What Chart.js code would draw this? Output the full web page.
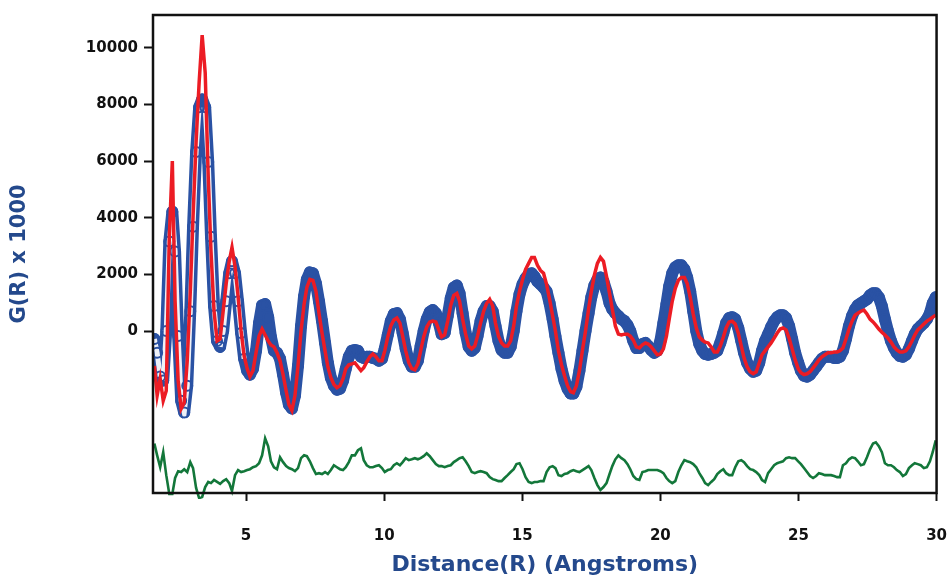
<!DOCTYPE html>
<html lang="en">
<head>
  <meta charset="UTF-8" />
  <title>G(R) fit</title>
  <script src="https://cdn.jsdelivr.net/npm/chart.js@4.4.1/dist/chart.umd.min.js"></script>
  <style>
    body { margin: 0; background: #fff; }
  </style>
</head>
<body>
  <canvas id="pdfChart" width="949" height="576"></canvas>
<script>
  // distance grid (Angstroms)
  const rGrid = [
    1.68, 1.78, 1.89, 2.00, 2.11, 2.22, 2.33, 2.43, 2.54, 2.65,
    2.76, 2.87, 2.98, 3.08, 3.19, 3.30, 3.41, 3.52, 3.63, 3.73,
    3.84, 3.95, 4.06, 4.17, 4.28, 4.39, 4.49, 4.60, 4.71, 4.82,
    4.93, 5.04, 5.14, 5.25, 5.36, 5.47, 5.58, 5.69, 5.80, 5.90,
    6.01, 6.12, 6.23, 6.34, 6.45, 6.55, 6.66, 6.77, 6.88, 6.99,
    7.10, 7.20, 7.31, 7.42, 7.53, 7.64, 7.75, 7.86, 7.96, 8.07,
    8.18, 8.29, 8.40, 8.51, 8.61, 8.72, 8.83, 8.94, 9.05, 9.16,
    9.26, 9.37, 9.48, 9.59, 9.70, 9.81, 9.92, 10.02, 10.13, 10.24,
    10.35, 10.46, 10.57, 10.67, 10.78, 10.89, 11.00, 11.11, 11.22, 11.32,
    11.43, 11.54, 11.65, 11.76, 11.87, 11.98, 12.08, 12.19, 12.30, 12.41,
    12.52, 12.63, 12.73, 12.84, 12.95, 13.06, 13.17, 13.28, 13.38, 13.49,
    13.60, 13.71, 13.82, 13.93, 14.03, 14.14, 14.25, 14.36, 14.47, 14.58,
    14.69, 14.79, 14.90, 15.01, 15.12, 15.23, 15.34, 15.44, 15.55, 15.66,
    15.77, 15.88, 15.99, 16.10, 16.20, 16.31, 16.42, 16.53, 16.64, 16.75,
    16.85, 16.96, 17.07, 17.18, 17.29, 17.40, 17.50, 17.61, 17.72, 17.83,
    17.94, 18.05, 18.16, 18.26, 18.37, 18.48, 18.59, 18.70, 18.81, 18.91,
    19.02, 19.13, 19.24, 19.35, 19.46, 19.56, 19.67, 19.78, 19.89, 20.00,
    20.11, 20.22, 20.32, 20.43, 20.54, 20.65, 20.76, 20.87, 20.97, 21.08,
    21.19, 21.30, 21.41, 21.52, 21.62, 21.73, 21.84, 21.95, 22.06, 22.17,
    22.28, 22.38, 22.49, 22.60, 22.71, 22.82, 22.93, 23.03, 23.14, 23.25,
    23.36, 23.47, 23.58, 23.68, 23.79, 23.90, 24.01, 24.12, 24.23, 24.34,
    24.44, 24.55, 24.66, 24.77, 24.88, 24.99, 25.09, 25.20, 25.31, 25.42,
    25.53, 25.64, 25.74, 25.85, 25.96, 26.07, 26.18, 26.29, 26.40, 26.50,
    26.61, 26.72, 26.83, 26.94, 27.05, 27.15, 27.26, 27.37, 27.48, 27.59,
    27.70, 27.80, 27.91, 28.02, 28.13, 28.24, 28.35, 28.46, 28.56, 28.67,
    28.78, 28.89, 29.00, 29.11, 29.21, 29.32, 29.43, 29.54, 29.65, 29.76,
    29.86, 29.97
  ];

  // observed G(R) (blue circles)
  const gObs = [
    -280, -770, -1610, -1750, 0, 3160, 4210, 2810, -180, -2460,
    -2880, -1930, 700, 3680, 6320, 7900, 8180, 7900, 5970, 3330,
    880, -350, -560, 0, 1050, 2040, 2460, 2040, 1050, -70,
    -980, -1400, -1540, -1330, -700, 280, 910, 950, 490, -210,
    -700, -770, -980, -1540, -2180, -2600, -2740, -2280, -1230, 180,
    1230, 1820, 2070, 2040, 1680, 1050, 350, -420, -1120, -1650,
    -1930, -2070, -2040, -1750, -1330, -910, -700, -670, -700, -910,
    -950, -910, -910, -950, -980, -1050, -980, -630, -140, 350,
    600, 630, 420, -70, -630, -1050, -1260, -1260, -1050, -530,
    0, 420, 670, 740, 630, 280, -110, -70, 530, 1160,
    1540, 1610, 1330, 630, -70, -560, -700, -600, -180, 350,
    700, 880, 880, 700, 180, -350, -670, -770, -770, -560,
    0, 700, 1300, 1650, 1860, 2000, 2040, 1930, 1750, 1650,
    1540, 1400, 980, 420, -180, -770, -1330, -1750, -2040, -2210,
    -2210, -1970, -1400, -700, 0, 630, 1190, 1610, 1820, 1890,
    1750, 1400, 980, 770, 630, 530, 420, 350, 210, 0,
    -350, -600, -600, -460, -420, -530, -670, -770, -700, -350,
    280, 950, 1580, 2040, 2250, 2320, 2320, 2180, 1890, 1400,
    700, 0, -460, -700, -810, -840, -810, -770, -700, -420,
    -70, 280, 460, 490, 420, 110, -350, -770, -1120, -1330,
    -1440, -1400, -1120, -700, -350, -110, 140, 350, 490, 560,
    560, 460, 180, -280, -770, -1120, -1400, -1580, -1610, -1540,
    -1400, -1260, -1120, -980, -910, -910, -910, -950, -950, -910,
    -700, -280, 180, 530, 770, 910, 980, 1050, 1120, 1260,
    1330, 1330, 1190, 880, 420, 0, -350, -600, -770, -880,
    -910, -840, -630, -350, -110, 70, 180, 280, 420, 630,
    980, 1190
  ];

  // calculated G(R) (red line)
  const gCalc = [
    -1230, -2280, -1680, -2460, -2110, 3300, 6000, 1050, -1750, -2740,
    -2530, -1050, 1400, 4040, 6670, 8770, 10450, 9120, 5440, 2810,
    700, -350, -280, 700, 1680, 2460, 2950, 2280, 1230, 0,
    -880, -1330, -1610, -1400, -770, -180, 70, -140, -350, -490,
    -560, -770, -1050, -1540, -2110, -2600, -2810, -2280, -1230, 0,
    950, 1540, 1820, 1790, 1400, 630, -70, -700, -1260, -1650,
    -1890, -2000, -1930, -1680, -1330, -1190, -1160, -1120, -1260, -1400,
    -1300, -1090, -910, -810, -910, -1050, -1050, -700, -210, 180,
    390, 460, 280, -180, -700, -1120, -1330, -1370, -1160, -700,
    -210, 140, 320, 350, 320, 40, -210, -140, 350, 910,
    1260, 1330, 1050, 420, -110, -530, -630, -530, -180, 280,
    700, 980, 1120, 880, 280, -180, -420, -530, -530, -350,
    180, 880, 1400, 1820, 2180, 2390, 2600, 2600, 2320, 2140,
    2040, 1650, 1120, 530, 0, -700, -1190, -1580, -1930, -2140,
    -2180, -1930, -1400, -670, 0, 770, 1400, 1970, 2390, 2600,
    2460, 1930, 1330, 770, 180, -110, -140, -110, -110, -180,
    -320, -560, -600, -490, -420, -460, -560, -700, -840, -810,
    -630, -180, 420, 1050, 1510, 1790, 1890, 1890, 1680, 1190,
    600, 110, -210, -320, -390, -420, -560, -740, -740, -530,
    -210, 110, 320, 350, 250, -70, -530, -950, -1260, -1440,
    -1510, -1440, -1120, -840, -700, -560, -420, -250, -70, 70,
    110, 40, -250, -630, -1020, -1330, -1470, -1540, -1510, -1440,
    -1300, -1160, -1020, -910, -840, -770, -770, -740, -740, -700,
    -600, -280, 70, 350, 560, 630, 700, 740, 600, 420,
    320, 210, 70, -40, -140, -250, -390, -560, -670, -740,
    -740, -700, -560, -350, -140, 40, 140, 250, 350, 420,
    490, 560
  ];

  // difference curve, plotted with its offset (green line)
  const gDiff = [
    -3970, -4390, -4810, -4280, -5090, -5750, -5750, -5190, -4950, -4980,
    -4880, -4980, -4630, -4840, -5540, -5900, -5860, -5510, -5330, -5370,
    -5260, -5330, -5400, -5300, -5230, -5370, -5650, -5090, -4910, -4980,
    -4950, -4910, -4880, -4810, -4770, -4670, -4390, -3790, -4070, -4600,
    -4810, -4880, -4460, -4630, -4770, -4840, -4880, -4950, -4840, -4490,
    -4390, -4420, -4600, -4840, -5050, -5020, -5050, -4980, -5050, -4910,
    -4740, -4810, -4880, -4910, -4810, -4630, -4390, -4390, -4210, -4140,
    -4560, -4740, -4810, -4810, -4770, -4740, -4840, -4980, -4910, -4880,
    -4740, -4670, -4740, -4630, -4490, -4560, -4530, -4490, -4530, -4490,
    -4420, -4320, -4420, -4560, -4700, -4770, -4770, -4810, -4770, -4740,
    -4630, -4560, -4490, -4460, -4600, -4770, -4980, -5020, -4980, -4950,
    -4980, -5020, -5160, -5230, -5260, -5300, -5300, -5190, -5090, -4980,
    -4880, -4700, -4670, -4880, -5160, -5330, -5370, -5330, -5330, -5300,
    -5300, -4980, -4810, -4770, -4840, -5090, -5120, -5050, -5020, -4950,
    -4910, -4950, -4980, -4910, -4840, -4770, -4910, -5190, -5440, -5610,
    -5510, -5370, -5050, -4770, -4530, -4390, -4490, -4560, -4700, -4880,
    -5120, -5230, -5260, -4980, -4950, -4910, -4910, -4910, -4910, -4950,
    -5020, -5190, -5300, -5370, -5300, -4980, -4740, -4560, -4600, -4630,
    -4700, -4810, -5020, -5190, -5370, -5440, -5330, -5230, -5050, -4950,
    -4880, -5020, -5090, -5090, -4810, -4600, -4560, -4630, -4770, -4880,
    -4910, -4980, -5090, -5260, -5330, -5020, -4880, -4740, -4670, -4630,
    -4600, -4490, -4460, -4490, -4490, -4600, -4700, -4840, -4980, -5120,
    -5190, -5120, -5020, -5050, -5090, -5090, -5090, -5120, -5160, -5160,
    -4740, -4670, -4530, -4460, -4490, -4600, -4740, -4700, -4460, -4180,
    -3970, -3930, -4070, -4280, -4670, -4740, -4740, -4810, -4910, -4980,
    -5120, -5050, -4840, -4740, -4670, -4700, -4740, -4840, -4810, -4600,
    -4280, -3860
  ];

  const xTicks = [5, 10, 15, 20, 25, 30];
  const yTicks = [0, 2000, 4000, 6000, 8000, 10000];

  const toPoints = vals => rGrid.map((r, i) => ({ x: r, y: vals[i] }));

  const obsBlue = '#2a52a4';
  const axisBlue = '#24498c';
  Chart.defaults.font.family = '"DejaVu Sans", Verdana, sans-serif';

  // the low-r peaks are so steep that the circles read as hollow columns
  const hollowSegment = ctx => {
    const steep = Math.abs(ctx.p1.y - ctx.p0.y) > 3 * Math.abs(ctx.p1.x - ctx.p0.x);
    return steep && ctx.p0.parsed.x < 4.9 ? 'rgba(255,255,255,0.92)' : 'rgba(255,255,255,0)';
  };

  // black box round the plot area
  const framePlugin = {
    id: 'frame',
    afterDatasetsDraw(chart) {
      const { ctx, chartArea: a } = chart;
      ctx.save();
      ctx.strokeStyle = '#111';
      ctx.lineWidth = 2.5;
      ctx.strokeRect(a.left, a.top, a.right - a.left, a.bottom - a.top);
      ctx.restore();
    }
  };

  new Chart(document.getElementById('pdfChart'), {
    type: 'scatter',
    data: {
      datasets: [
        {
          label: 'Calculated',
          data: toPoints(gCalc),
          showLine: true,
          borderColor: '#ec1c24',
          borderWidth: 3.5,
          pointRadius: 0,
          tension: 0
        },
        {
          label: 'Difference',
          data: toPoints(gDiff),
          showLine: true,
          borderColor: '#13773a',
          borderWidth: 2.6,
          pointRadius: 0,
          tension: 0,
          clip: { left: 0, top: 0, right: 0, bottom: 6 }
        },
        {
          label: 'Observed',
          data: toPoints(gObs),
          showLine: false,
          pointStyle: 'circle',
          pointRadius: 5,
          pointBorderWidth: 2,
          pointBorderColor: obsBlue,
          pointBackgroundColor: 'rgba(255,255,255,0)'
        },
        {
          label: 'Observed core',
          data: toPoints(gObs),
          showLine: true,
          borderWidth: 5,
          borderColor: 'rgba(255,255,255,0)',
          segment: { borderColor: hollowSegment },
          pointRadius: 0,
          tension: 0
        },
        {
          label: 'Observed band',
          data: toPoints(gObs),
          showLine: true,
          borderColor: obsBlue,
          borderWidth: 12,
          borderCapStyle: 'round',
          borderJoinStyle: 'round',
          pointRadius: 0,
          tension: 0
        }
      ]
    },
    options: {
      responsive: false,
      animation: false,
      events: [],
      devicePixelRatio: 1,
      layout: { padding: { top: 12, right: 2, left: 0, bottom: 0 } },
      plugins: {
        legend: { display: false },
        tooltip: { enabled: false }
      },
      scales: {
        x: {
          type: 'linear',
          min: 1.63,
          max: 30,
          afterBuildTicks: s => { s.ticks = xTicks.map(v => ({ value: v })); },
          afterFit: s => { s.height = 83; },
          border: { display: false },
          grid: { drawOnChartArea: false, drawTicks: true, tickLength: 8, tickWidth: 2, tickColor: '#111' },
          ticks: {
            padding: 2,
            color: '#111',
            maxRotation: 0,
            font: { size: 15, weight: 'bold', lineHeight: 4.4 },
            callback: v => String(v)
          },
          title: {
            display: true,
            text: 'Distance(R) (Angstroms)',
            color: axisBlue,
            font: { size: 22, weight: 'bold', lineHeight: 1 },
            padding: { top: 0, bottom: 0 }
          }
        },
        y: {
          type: 'linear',
          min: -5720,
          max: 11160,
          afterBuildTicks: s => { s.ticks = yTicks.map(v => ({ value: v })); },
          afterFit: s => { s.width = 153; },
          border: { display: false },
          grid: { drawOnChartArea: false, drawTicks: true, tickLength: 9, tickWidth: 2, tickColor: '#111' },
          ticks: {
            padding: 6,
            color: '#111',
            font: { size: 15, weight: 'bold' },
            callback: v => String(v)
          },
          title: {
            display: true,
            text: 'G(R) x 1000',
            color: axisBlue,
            font: { size: 21, weight: 'bold', lineHeight: 1 },
            padding: { top: 9, bottom: 0 }
          }
        }
      }
    },
    plugins: [framePlugin]
  });
</script>
</body>
</html>
